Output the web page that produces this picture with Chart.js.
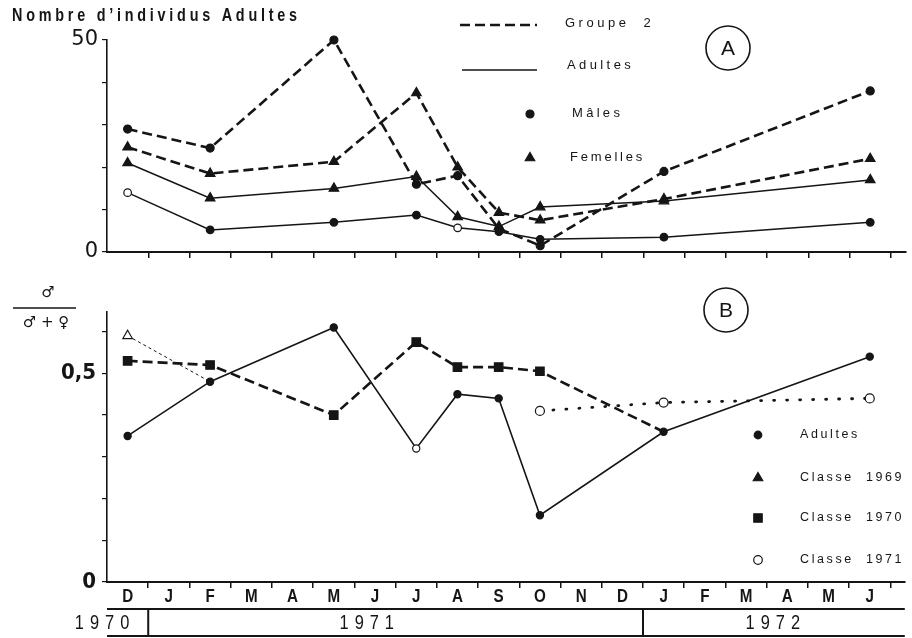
<!DOCTYPE html>
<html lang="fr">
<head>
<meta charset="utf-8">
<title>Nombre d’individus adultes et sex-ratio, 1970–1972</title>
<script src="https://cdn.jsdelivr.net/npm/chart.js@4.4.1/dist/chart.umd.min.js"></script>
<style>
  html, body { margin: 0; padding: 0; background: #fff; overflow: hidden; }
  #cadre { position: relative; width: 912px; height: 638px; }
  canvas { position: absolute; left: 0; }
  #grapheA { top: 0; }
  #grapheB { top: 270px; }
</style>
</head>
<body>
<div id="cadre">
  <canvas id="grapheA" width="912" height="270"></canvas>
  <canvas id="grapheB" width="912" height="368"></canvas>
</div>
<script>
// Calendrier des prélèvements : décembre 1970 à juin 1972
const mois = ['D','J','F','M','A','M','J','J','A','S','O','N','D','J','F','M','A','M','J'];
const annees = ['1970', '1971', '1972'];
const moisParAnnee = [1, 12, 6];

// A — Nombre d'individus adultes (indices des mois de prélèvement)
const prelevements = [0, 2, 5, 7, 8, 9, 10, 13, 18];
const groupe2Males = [29, 24.5, 50, 16, 18, 5.5, 1.5, 19, 38];
const groupe2Femelles = [24.7, 18.5, 21.3, 37.5, 20, 9.3, 7.5, 12.5, 22];
const adultesFemelles = [21, 12.7, 15, 17.8, 8.3, 6, 10.6, 12, 17];
const adultesMales = [14, 5.2, 7, 8.7, 5.7, 4.8, 3, 3.5, 7];
const ticksA = [0, 10, 20, 30, 40, 50];
const etiquettesA = { 0: '0', 50: '50' };

// B — Sex-ratio ♂ / (♂ + ♀)
const adultesRatio = [0.35, 0.48, 0.61, 0.32, 0.45, 0.44, 0.16, 0.36, 0.54];
const moisClasse1969 = [0, 2];
const classe1969 = [0.59, 0.48];
const moisClasse1970 = [0, 2, 5, 7, 8, 9, 10, 13];
const classe1970 = [0.53, 0.52, 0.40, 0.575, 0.515, 0.515, 0.505, 0.36];
const moisClasse1971 = [10, 13, 18];
const classe1971 = [0.41, 0.43, 0.44];
const ticksB = [0, 0.1, 0.2, 0.3, 0.4, 0.5, 0.6];
const etiquettesB = { 0: '0', 0.5: '0,5' };

// ---------- style ----------
const ENCRE = '#151515';
const SANS = "'Liberation Sans', Arial, sans-serif";
const ETROIT = "'Liberation Sans Narrow', 'DejaVu Sans Condensed', sans-serif";
const TIRETS = [10, 5];
Chart.defaults.font.family = SANS;
Chart.defaults.color = ENCRE;

const serie = (xs, ys) => xs.map((m, i) => ({ x: m, y: ys[i] }));

// texte à espacement de lettres fixe, éventuellement condensé (sx < 1)
function texteEspace(ctx, txt, x, y, ecart, align, sx = 1) {
  const car = [...txt];
  const l = car.map(c => ctx.measureText(c).width * sx);
  const total = l.reduce((a, b) => a + b, 0) + ecart * (car.length - 1);
  let cx = align === 'center' ? x - total / 2 : (align === 'right' ? x - total : x);
  ctx.textAlign = 'left';
  car.forEach((c, i) => {
    ctx.save();
    ctx.translate(cx, y);
    ctx.scale(sx, 1);
    ctx.fillText(c, 0, 0);
    ctx.restore();
    cx += l[i] + ecart;
  });
}
// texte ajusté à une largeur donnée
function texteLargeur(ctx, txt, x, y, largeur, sx = 1) {
  const car = [...txt];
  const l = car.map(c => ctx.measureText(c).width * sx);
  const ecart = (largeur - l.reduce((a, b) => a + b, 0)) / (car.length - 1);
  texteEspace(ctx, txt, x, y, ecart, 'left', sx);
}
function symbole(ctx, forme, x, y, r, plein) {
  ctx.beginPath();
  if (forme === 'circle') ctx.arc(x, y, r, 0, Math.PI * 2);
  else if (forme === 'triangle') {
    ctx.moveTo(x, y - r);
    ctx.lineTo(x + r * 0.866, y + r * 0.5);
    ctx.lineTo(x - r * 0.866, y + r * 0.5);
    ctx.closePath();
  } else ctx.rect(x - r, y - r, 2 * r, 2 * r);
  ctx.fillStyle = plein ? ENCRE : '#fff';
  ctx.fill();
  ctx.lineWidth = 1.2;
  ctx.strokeStyle = ENCRE;
  ctx.stroke();
}
function cercleLettre(ctx, lettre, x, y) {
  ctx.beginPath();
  ctx.arc(x, y, 22, 0, Math.PI * 2);
  ctx.lineWidth = 1.6;
  ctx.strokeStyle = ENCRE;
  ctx.stroke();
  ctx.fillStyle = ENCRE;
  ctx.font = `21px ${SANS}`;
  ctx.textAlign = 'center';
  ctx.textBaseline = 'middle';
  ctx.fillText(lettre, x, y + 1);
}

function axeMois(hauteur) {
  return {
    type: 'linear', min: -0.5, max: 18.85,
    afterBuildTicks: s => { s.ticks = mois.map((_, i) => ({ value: i + 0.5 })); },
    afterFit: s => { s.height = hauteur; },
    ticks: { display: false },
    grid: { drawOnChartArea: false, drawTicks: true, tickLength: 6, color: ENCRE, lineWidth: 1.5 },
    border: { display: true, color: ENCRE, width: 2 }
  };
}
function ligne(label, donnees, o) {
  return Object.assign({
    label, data: donnees, clip: false, tension: 0,
    borderColor: ENCRE, pointBorderColor: ENCRE, pointBackgroundColor: ENCRE,
    pointBorderWidth: 1.2, pointHoverRadius: 0
  }, o);
}
const ouvert = (moisOuverts) => ctx => moisOuverts.includes(ctx.raw && ctx.raw.x) ? '#fff' : ENCRE;
// là où une classe rejoint la courbe des adultes, seul le point des adultes est marqué
const rayonHorsJonction = r => ctx => {
  const p = ctx.raw;
  if (!p) return r;
  const k = prelevements.indexOf(p.x);
  return (k >= 0 && Math.abs(adultesRatio[k] - p.y) < 0.005) ? 0 : r;
};

const communes = {
  responsive: false, animation: false, devicePixelRatio: 1,
  events: [],
  plugins: { legend: { display: false }, tooltip: { enabled: false }, title: { display: false } }
};

// ---------- A : nombre d'individus adultes ----------
new Chart(document.getElementById('grapheA'), {
  type: 'line',
  data: {
    datasets: [
      ligne('Adultes — Mâles', serie(prelevements, adultesMales), {
        borderWidth: 1.5, pointStyle: 'circle', pointRadius: 3.8,
        pointBackgroundColor: ouvert([0, 8])
      }),
      ligne('Adultes — Femelles', serie(prelevements, adultesFemelles), {
        borderWidth: 1.5, pointStyle: 'triangle', pointRadius: 5.5
      }),
      ligne('Groupe 2 — Femelles', serie(prelevements, groupe2Femelles), {
        borderWidth: 2.6, borderDash: TIRETS, pointStyle: 'triangle', pointRadius: 5.5
      }),
      ligne('Groupe 2 — Mâles', serie(prelevements, groupe2Males), {
        borderWidth: 2.6, borderDash: TIRETS, pointStyle: 'circle', pointRadius: 4
      })
    ]
  },
  options: Object.assign({}, communes, {
    layout: { padding: { top: 40, bottom: 8, left: 0, right: 0 } },
    scales: {
      x: axeMois(10),
      y: {
        min: 0, max: 50,
        afterBuildTicks: s => { s.ticks = ticksA.map(v => ({ value: v })); },
        afterFit: s => { s.width = 107; },
        ticks: {
          callback: v => etiquettesA[v] || '',
          font: { family: "'DejaVu Sans', sans-serif", size: 21 }, color: ENCRE, padding: 4
        },
        grid: { drawOnChartArea: false, tickLength: 5, color: ENCRE, lineWidth: 1.2 },
        border: { color: ENCRE, width: 1.6 }
      }
    }
  }),
  plugins: [{
    id: 'decorA',
    afterDraw(chart) {
      const ctx = chart.ctx;
      ctx.save();
      ctx.fillStyle = ENCRE;
      ctx.textBaseline = 'middle';
      ctx.font = `bold 18px ${SANS}`;
      texteLargeur(ctx, 'Nombre d’individus Adultes', 12, 16, 285, 0.8);

      // légende
      ctx.strokeStyle = ENCRE;
      ctx.lineWidth = 2.6;
      ctx.setLineDash(TIRETS);
      ctx.beginPath(); ctx.moveTo(460, 25); ctx.lineTo(537, 25); ctx.stroke();
      ctx.setLineDash([]);
      ctx.lineWidth = 1.6;
      ctx.beginPath(); ctx.moveTo(462, 70); ctx.lineTo(537, 70); ctx.stroke();
      symbole(ctx, 'circle', 530, 114, 4, true);
      symbole(ctx, 'triangle', 530, 158, 5.5, true);
      ctx.fillStyle = ENCRE;
      ctx.font = `13px ${SANS}`;
      ctx.textBaseline = 'middle';
      texteEspace(ctx, 'Groupe  2', 565, 23, 3.5, 'left');
      texteEspace(ctx, 'Adultes', 567, 65, 3.4, 'left');
      texteEspace(ctx, 'Mâles', 572, 113, 3.3, 'left');
      texteEspace(ctx, 'Femelles', 570, 157, 2.8, 'left');

      cercleLettre(ctx, 'A', 728, 48);
      ctx.restore();
    }
  }]
});

// ---------- B : sex-ratio ----------
new Chart(document.getElementById('grapheB'), {
  type: 'line',
  data: {
    datasets: [
      ligne('Classe 1971', serie(moisClasse1971, classe1971), {
        borderWidth: 2.8, borderDash: [1, 12], borderCapStyle: 'round',
        pointStyle: 'circle', pointRadius: 4.5, pointBackgroundColor: '#fff'
      }),
      ligne('Classe 1969', serie(moisClasse1969, classe1969), {
        borderWidth: 1, borderDash: [3, 3], pointStyle: 'triangle',
        pointRadius: rayonHorsJonction(5.5), pointBackgroundColor: '#fff'
      }),
      ligne('Classe 1970', serie(moisClasse1970, classe1970), {
        borderWidth: 2.6, borderDash: TIRETS, pointStyle: 'rect',
        pointRadius: rayonHorsJonction(6)
      }),
      ligne('Adultes', serie(prelevements, adultesRatio), {
        borderWidth: 1.6, pointStyle: 'circle', pointRadius: 3.6,
        pointBackgroundColor: ouvert([7])
      })
    ]
  },
  options: Object.assign({}, communes, {
    layout: { padding: { top: 42, bottom: 0, left: 0, right: 0 } },
    scales: {
      x: axeMois(56),
      y: {
        min: 0, max: 0.647,
        afterBuildTicks: s => { s.ticks = ticksB.map(v => ({ value: v })); },
        afterFit: s => { s.width = 107; },
        ticks: {
          callback: v => etiquettesB[Math.round(v * 10) / 10] || '',
          font: { family: ETROIT, size: 22, weight: 'bold' }, color: ENCRE, padding: 6
        },
        grid: { drawOnChartArea: false, tickLength: 5, color: ENCRE, lineWidth: 1.2 },
        border: { color: ENCRE, width: 1.6 }
      }
    }
  }),
  plugins: [{
    id: 'decorB',
    afterDraw(chart) {
      const ctx = chart.ctx;
      const xs = chart.scales.x;
      const { left, right, bottom } = chart.chartArea;
      ctx.save();
      ctx.fillStyle = ENCRE;
      ctx.strokeStyle = ENCRE;

      // mois
      ctx.font = `bold 19px ${SANS}`;
      ctx.textBaseline = 'middle';
      mois.forEach((m, i) => texteEspace(ctx, m, xs.getPixelForValue(i), bottom + 15, 0, 'center', 0.8));

      // bande des années
      ctx.lineWidth = 2;
      ctx.beginPath();
      ctx.moveTo(left, bottom + 27); ctx.lineTo(right, bottom + 27);
      ctx.moveTo(left, bottom + 54); ctx.lineTo(right, bottom + 54);
      let cumul = 0;
      moisParAnnee.slice(0, -1).forEach(n => {
        cumul += n;
        const x = xs.getPixelForValue(cumul - 0.5);
        ctx.moveTo(x, bottom + 27); ctx.lineTo(x, bottom + 54);
      });
      ctx.stroke();
      const centresAnnees = [-0.62, 5.8, 15.65];
      ctx.font = `20px ${SANS}`;
      annees.forEach((a, i) => texteEspace(ctx, a, xs.getPixelForValue(centresAnnees[i]), bottom + 41, 6, 'center', 0.82));

      // titre de l'axe : ♂ / (♂ + ♀)
      ctx.font = `15px 'DejaVu Sans', sans-serif`;
      ctx.textAlign = 'center';
      ctx.fillText('♂', 48, 23);
      ctx.fillText('♂ + ♀', 46, 53);
      ctx.lineWidth = 1.5;
      ctx.beginPath(); ctx.moveTo(13, 38); ctx.lineTo(76, 38); ctx.stroke();

      // légende
      const lx = 758;
      const entrees = [
        ['circle', true, 'Adultes', 165, 3.8],
        ['triangle', true, 'Classe  1969', 208, 5.5],
        ['rect', true, 'Classe  1970', 248, 4.2],
        ['circle', false, 'Classe  1971', 290, 4.3]
      ];
      entrees.forEach(([forme, plein, txt, y, r]) => {
        symbole(ctx, forme, lx, y, r, plein);
        ctx.fillStyle = ENCRE;
        ctx.font = `12.5px ${SANS}`;
        ctx.textBaseline = 'middle';
        texteEspace(ctx, txt, 800, y, 2.6, 'left');
      });

      cercleLettre(ctx, 'B', 726, 40);
      ctx.restore();
    }
  }]
});
</script>
</body>
</html>
